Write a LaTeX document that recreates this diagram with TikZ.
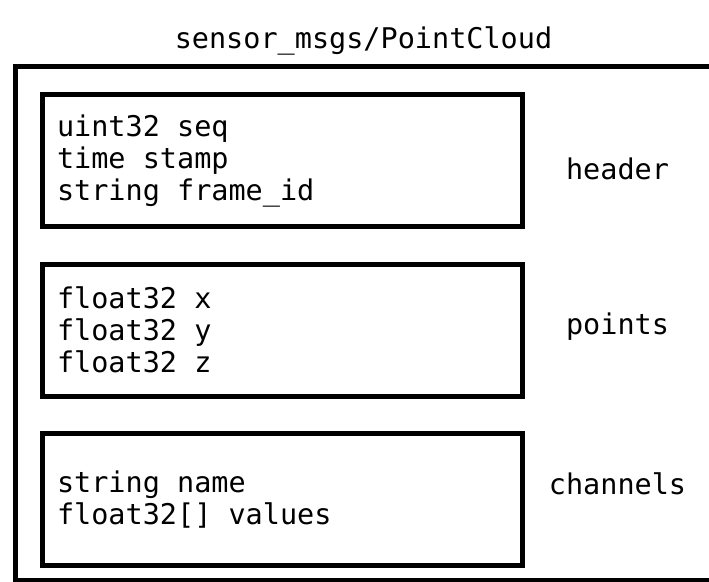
\documentclass[tikz,border=0pt]{standalone}
\usepackage{fontspec}
\newfontfamily\msgfont{DejaVu Sans Mono}
\usetikzlibrary{positioning}

\begin{document}
\begin{tikzpicture}[x=1pt,y=-1pt,node distance=32.5pt,
  every node/.style={font=\msgfont\fontsize{28.5}{32}\selectfont},
  field/.style={draw,line width=5pt,minimum width=480pt,minimum height=132pt,
    inner xsep=14.5pt,text width=451pt,align=flush left,
    execute at begin node={\spaceskip=0.602em\relax}},
  tag/.style={anchor=base}]
  \useasboundingbox (0,0) rectangle (709,581);
  \clip (0,0) rectangle (709,581);
  % message frame
  \draw[line width=5pt] (15,66.5) rectangle (760,580);
  \node[anchor=base] (title) at (363.5,48) {sensor\_msgs/PointCloud};
  % fields
  \node[field] (header) at (282.5,160.75) {uint32 seq\\time stamp\\string frame\_id};
  \node[field,below=of header] (points) {float32 x\\float32 y\\float32 z};
  \node[field,below=of points] (channels) {string name\\float32[] values};
  % field names
  \node[tag] (headertag) at (617.5,179) {header};
  \node[tag] (pointstag) at (617.5,334) {points};
  \node[tag] (channelstag) at (617.5,494) {channels};
\end{tikzpicture}
\end{document}
